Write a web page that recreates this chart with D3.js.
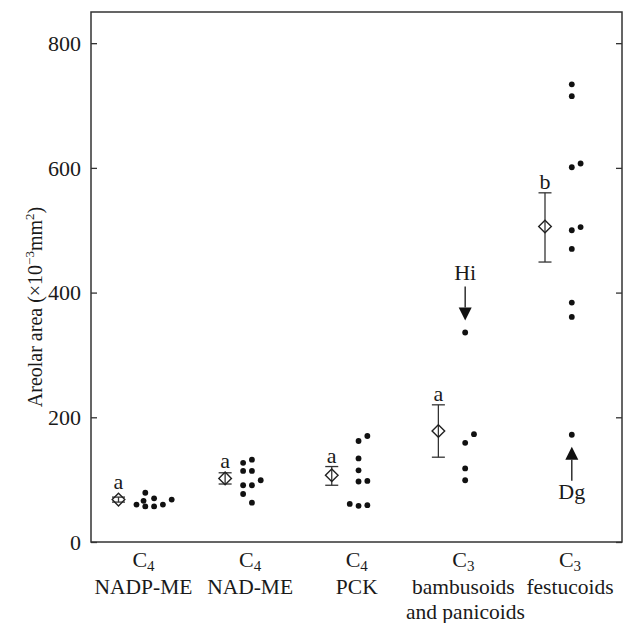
<html>
<head><meta charset="utf-8"></head>
<style>
  html, body { margin: 0; background: #fff; }
  svg { display: block; }
  text { font-family: "Liberation Serif", "Times New Roman", serif; fill: #1a1a1a; }
</style>
<body>
<div id="chart"></div>
<script src="https://cdnjs.cloudflare.com/ajax/libs/d3/7.8.5/d3.min.js"></script>
<script>
  // groups along the x axis
  const pathway = ["4", "4", "4", "3", "3"];          // C3 / C4 subscript
  const groupNames = ["NADP-ME", "NAD-ME", "PCK", "bambusoids", "festucoids"];
  const groupExtra = ["", "", "", "and panicoids", ""];

  // group means with upper / lower error bar ends
  const means = [68, 102, 107, 178, 506];
  const errHigh = [72, 111, 121, 220, 560];
  const errLow = [64, 93, 91, 136, 449];
  const letters = ["a", "a", "a", "a", "b"];

  // individual species values, with the jitter column they sit in
  const dotValues = [
    [60, 79, 66, 57, 70, 57, 60, 68],
    [127, 132, 114, 114, 91, 91, 99, 77, 63],
    [162, 170, 134, 115, 97, 98, 61, 58, 59],
    [336, 159, 173, 118, 99],
    [734, 715, 601, 607, 500, 505, 470, 384, 361, 172]
  ];
  const dotColumns = [
    [0, 1, 0.8, 1, 2, 2, 3, 4],
    [0, 1, 0, 1, 0, 1, 2, 0, 1],
    [1, 2, 1, 1, 1, 2, 0, 1, 2],
    [1, 1, 2, 1, 1],
    [1, 1, 1, 2, 1, 2, 1, 1, 1, 1]
  ];

  // labelled species (group, dot index, label, arrow direction)
  const callouts = [
    {group: 3, dot: 0, label: "Hi", from: "above"},
    {group: 4, dot: 9, label: "Dg", from: "below"}
  ];

  const yTicks = [0, 200, 400, 600, 800];

  const W = 624, H = 623;
  const mLeft = 91, mRight = 622, mTop = 12, mBottom = 542;

  const svg = d3.select("#chart").append("svg")
      .attr("width", W).attr("height", H);

  const y = d3.scaleLinear().domain([0, 850]).range([mBottom, mTop]);
  const x = d3.scaleLinear().domain([0, 4]).range([118.5, 545]);
  const col = d3.scaleLinear().domain([0, 1]).range([18, 26.8]);

  // frame
  svg.append("rect")
      .attr("x", mLeft).attr("y", mTop)
      .attr("width", mRight - mLeft).attr("height", mBottom - mTop)
      .attr("fill", "none").attr("stroke", "#333").attr("stroke-width", 1.5);

  // left and right axes, ticks pointing inward
  const yAxis = svg.append("g")
      .attr("transform", `translate(${mLeft},0)`)
      .call(d3.axisRight(y).tickValues(yTicks).tickSize(6).tickFormat(""));
  yAxis.select(".domain").remove();
  yAxis.selectAll("line").attr("stroke", "#333").attr("stroke-width", 1.3);

  const yAxisR = svg.append("g")
      .attr("transform", `translate(${mRight},0)`)
      .call(d3.axisLeft(y).tickValues(yTicks).tickSize(6).tickFormat(""));
  yAxisR.select(".domain").remove();
  yAxisR.selectAll("line").attr("stroke", "#333").attr("stroke-width", 1.3);

  svg.selectAll(".ylab").data(yTicks).enter().append("text")
      .attr("x", mLeft - 10).attr("y", d => y(d))
      .attr("dy", "0.35em").attr("text-anchor", "end")
      .attr("font-size", 22)
      .text(d => d);

  // y axis title
  const title = svg.append("text")
      .attr("transform", `translate(42,${(mTop + mBottom) / 2 + 30}) rotate(-90)`)
      .attr("text-anchor", "middle").attr("font-size", 20);
  title.append("tspan").text("Areolar area (×10");
  title.append("tspan").attr("font-size", 13).attr("dy", -8).text("−3");
  title.append("tspan").attr("dy", 8).text("mm");
  title.append("tspan").attr("font-size", 13).attr("dy", -8).text("2");
  title.append("tspan").attr("dy", 8).text(")");

  // category labels
  groupNames.forEach((name, i) => {
    const cx = x(i) + 25;
    const t = svg.append("text")
        .attr("x", cx).attr("y", 567)
        .attr("text-anchor", "middle").attr("font-size", 22);
    t.append("tspan").text("C");
    t.append("tspan").attr("font-size", 15).attr("dy", 4).text(pathway[i]);
    svg.append("text")
        .attr("x", cx).attr("y", 594)
        .attr("text-anchor", "middle").attr("font-size", 21.5)
        .text(name);
    if (groupExtra[i]) {
      svg.append("text")
          .attr("x", cx + 2).attr("y", 619)
          .attr("text-anchor", "middle").attr("font-size", 21.5)
          .text(groupExtra[i]);
    }
  });

  // error bars
  const eb = svg.append("g").attr("stroke", "#333").attr("stroke-width", 1.3);
  means.forEach((m, i) => {
    eb.append("line")
        .attr("x1", x(i)).attr("x2", x(i))
        .attr("y1", y(errHigh[i])).attr("y2", y(errLow[i]));
    [errHigh[i], errLow[i]].forEach(v => {
      eb.append("line")
          .attr("x1", x(i) - 6.5).attr("x2", x(i) + 6.5)
          .attr("y1", y(v)).attr("y2", y(v));
    });
  });

  // mean diamonds (open, bar visible through them)
  svg.selectAll(".mean").data(means).enter().append("path")
      .attr("transform", (d, i) => `translate(${x(i)},${y(d)})`)
      .attr("d", "M0,-6.3L6.3,0L0,6.3L-6.3,0Z")
      .attr("fill", "none").attr("stroke", "#222").attr("stroke-width", 1.4);

  // significance letters
  svg.selectAll(".letter").data(letters).enter().append("text")
      .attr("x", (d, i) => x(i))
      .attr("y", (d, i) => Math.min(y(errHigh[i]), y(means[i]) - 6.3) - 4)
      .attr("text-anchor", "middle").attr("font-size", 22)
      .text(d => d);

  // species dots
  dotValues.forEach((vals, i) => {
    svg.append("g").selectAll("circle").data(vals).enter().append("circle")
        .attr("cx", (d, j) => x(i) + col(dotColumns[i][j]))
        .attr("cy", d => y(d))
        .attr("r", 2.9)
        .attr("fill", "#111");
  });

  // callout arrows
  callouts.forEach(c => {
    const v = dotValues[c.group][c.dot];
    const cx = x(c.group) + col(dotColumns[c.group][c.dot]);
    const cy = y(v);
    const s = c.from === "above" ? -1 : 1;
    const tip = cy + s * 12;
    const headEnd = tip + s * 13;
    const tail = tip + s * 34;
    svg.append("line")
        .attr("x1", cx).attr("x2", cx)
        .attr("y1", headEnd).attr("y2", tail)
        .attr("stroke", "#222").attr("stroke-width", 1.4);
    svg.append("path")
        .attr("d", `M${cx},${tip}L${cx - 6.5},${headEnd}L${cx + 6.5},${headEnd}Z`)
        .attr("fill", "#111");
    svg.append("text")
        .attr("x", cx).attr("y", c.from === "above" ? tail - 6 : tail + 18)
        .attr("text-anchor", "middle").attr("font-size", 22)
        .text(c.label);
  });
</script>
</body>
</html>
